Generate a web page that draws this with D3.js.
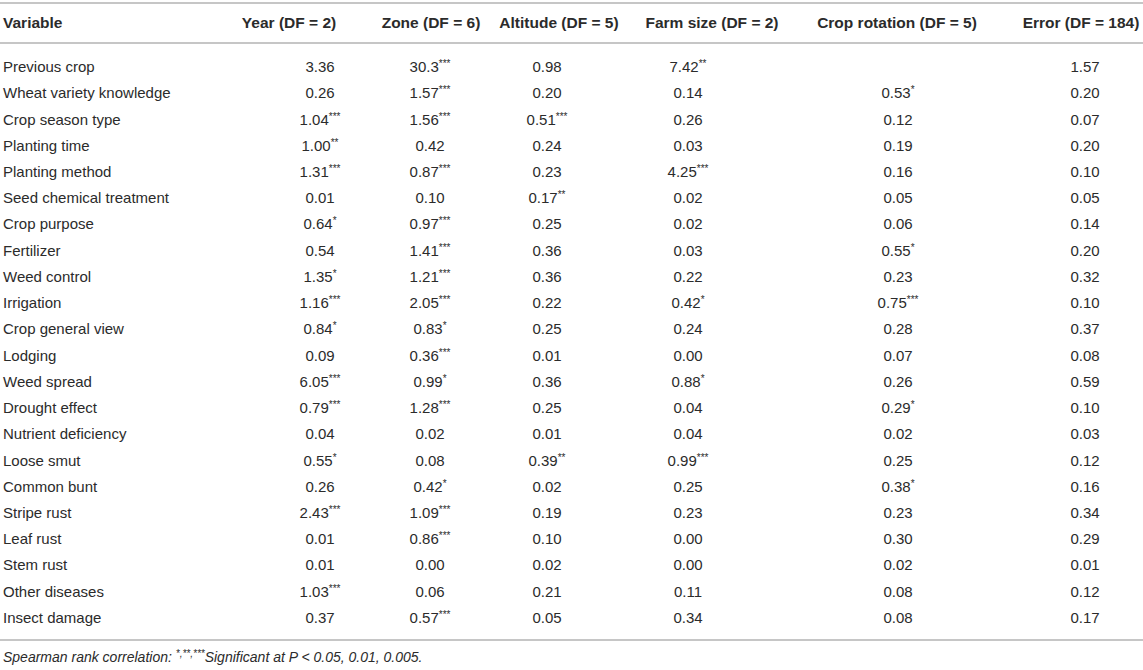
<!DOCTYPE html>
<html>
<head>
<meta charset="utf-8">
<script src="https://cdn.jsdelivr.net/npm/d3@7"></script>
<style>
  html, body { margin: 0; padding: 0; background: #fff; }
  svg { display: block; }
</style>
</head>
<body>
<svg id="chart" width="1143" height="670"></svg>
<script>
// ---------------------------------------------------------------------------
// Table data (stars = significance level)
// ---------------------------------------------------------------------------
var variables = ["Previous crop", "Wheat variety knowledge", "Crop season type", "Planting time",
  "Planting method", "Seed chemical treatment", "Crop purpose", "Fertilizer", "Weed control",
  "Irrigation", "Crop general view", "Lodging", "Weed spread", "Drought effect",
  "Nutrient deficiency", "Loose smut", "Common bunt", "Stripe rust", "Leaf rust",
  "Stem rust", "Other diseases", "Insect damage"]

var year = ["3.36", "0.26", "1.04***", "1.00**", "1.31***", "0.01", "0.64*", "0.54", "1.35*",
  "1.16***", "0.84*", "0.09", "6.05***", "0.79***", "0.04", "0.55*", "0.26", "2.43***",
  "0.01", "0.01", "1.03***", "0.37"]

var zone = ["30.3***", "1.57***", "1.56***", "0.42", "0.87***", "0.10", "0.97***", "1.41***",
  "1.21***", "2.05***", "0.83*", "0.36***", "0.99*", "1.28***", "0.02", "0.08", "0.42*",
  "1.09***", "0.86***", "0.00", "0.06", "0.57***"]

var altitude = ["0.98", "0.20", "0.51***", "0.24", "0.23", "0.17**", "0.25", "0.36", "0.36",
  "0.22", "0.25", "0.01", "0.36", "0.25", "0.01", "0.39**", "0.02", "0.19", "0.10", "0.02",
  "0.21", "0.05"]

var farmSize = ["7.42**", "0.14", "0.26", "0.03", "4.25***", "0.02", "0.02", "0.03", "0.22",
  "0.42*", "0.24", "0.00", "0.88*", "0.04", "0.04", "0.99***", "0.25", "0.23", "0.00", "0.00",
  "0.11", "0.34"]

var cropRotation = ["", "0.53*", "0.12", "0.19", "0.16", "0.05", "0.06", "0.55*", "0.23",
  "0.75***", "0.28", "0.07", "0.26", "0.29*", "0.02", "0.25", "0.38*", "0.23", "0.30", "0.02",
  "0.08", "0.08"]

var errorTerm = ["1.57", "0.20", "0.07", "0.20", "0.10", "0.05", "0.14", "0.20", "0.32", "0.10",
  "0.37", "0.08", "0.59", "0.10", "0.03", "0.12", "0.16", "0.34", "0.29", "0.01", "0.12", "0.17"]

var headers = ["Year (DF = 2)", "Zone (DF = 6)", "Altitude (DF = 5)", "Farm size (DF = 2)",
  "Crop rotation (DF = 5)", "Error (DF = 184)"]

var footnote = "Spearman rank correlation: "

// ---------------------------------------------------------------------------
// Layout
// ---------------------------------------------------------------------------
var width = 1143,
    height = 670,
    textColor = "#2b2b2b",
    ruleColor = "#c6c6c6",
    font = "'Liberation Sans', Arial, Helvetica, sans-serif"

var columns = [year, zone, altitude, farmSize, cropRotation, errorTerm]

// header cells and value cells do not share the same centre in the source
var xHead = d3.scaleOrdinal()
  .domain(headers)
  .range([289, 431, 559, 712, 897, 1081])

var xCell = d3.scaleOrdinal()
  .domain(headers)
  .range([320, 430, 547, 688, 898, 1085])

var y = d3.scaleBand()
  .domain(variables)
  .range([54, 631])

var svg = d3.select("#chart")
  .attr("font-family", font)

function rule(yPos) {
  svg.append("line")
    .attr("x1", 0).attr("x2", width)
    .attr("y1", yPos).attr("y2", yPos)
    .attr("stroke", ruleColor)
    .attr("stroke-width", 2)
}

rule(3)
rule(43)
rule(640)

// split "1.04***" into number + superscript stars
function addCell(sel, str) {
  var m = str.match(/^([^*]*)(\**)$/)
  sel.append("tspan").text(m[1])
  if (m[2]) {
    sel.append("tspan")
      .attr("font-size", 10)
      .attr("dy", -5)
      .text(m[2])
  }
}

// header
var head = svg.append("g")
  .attr("font-weight", "bold")
  .attr("font-size", 15.5)
  .attr("fill", textColor)

head.append("text")
  .attr("x", 3)
  .attr("y", 28)
  .text("Variable")

head.selectAll("text.col")
  .data(headers)
  .enter().append("text")
    .attr("class", "col")
    .attr("x", function(d){ return xHead(d) })
    .attr("y", 28)
    .attr("text-anchor", "middle")
    .text(function(d){ return d })

// body
var body = svg.append("g")
  .attr("font-size", 15)
  .attr("fill", textColor)

var rows = body.selectAll("g.row")
  .data(variables)
  .enter().append("g")
    .attr("class", "row")
    .attr("transform", function(d){ return "translate(0," + (y(d) + y.bandwidth()/2 + 5) + ")" })

rows.append("text")
  .attr("x", 3)
  .text(function(d){ return d })

rows.each(function(d, i){
  var g = d3.select(this)
  columns.forEach(function(col, j){
    if (!col[i]) return
    var t = g.append("text")
      .attr("x", xCell(headers[j]))
      .attr("text-anchor", "middle")
    addCell(t, col[i])
  })
})

// footnote
var foot = svg.append("text")
  .attr("x", 3)
  .attr("y", 662)
  .attr("font-size", 14)
  .attr("font-style", "italic")
  .attr("fill", textColor)

foot.append("tspan").text(footnote)
foot.append("tspan").attr("font-size", 10).attr("dy", -5).text("*,**,***")
foot.append("tspan").attr("dy", 5).text("Significant at ")
foot.append("tspan").text("P")
foot.append("tspan").text(" < 0.05, 0.01, 0.005.")
</script>
</body>
</html>
